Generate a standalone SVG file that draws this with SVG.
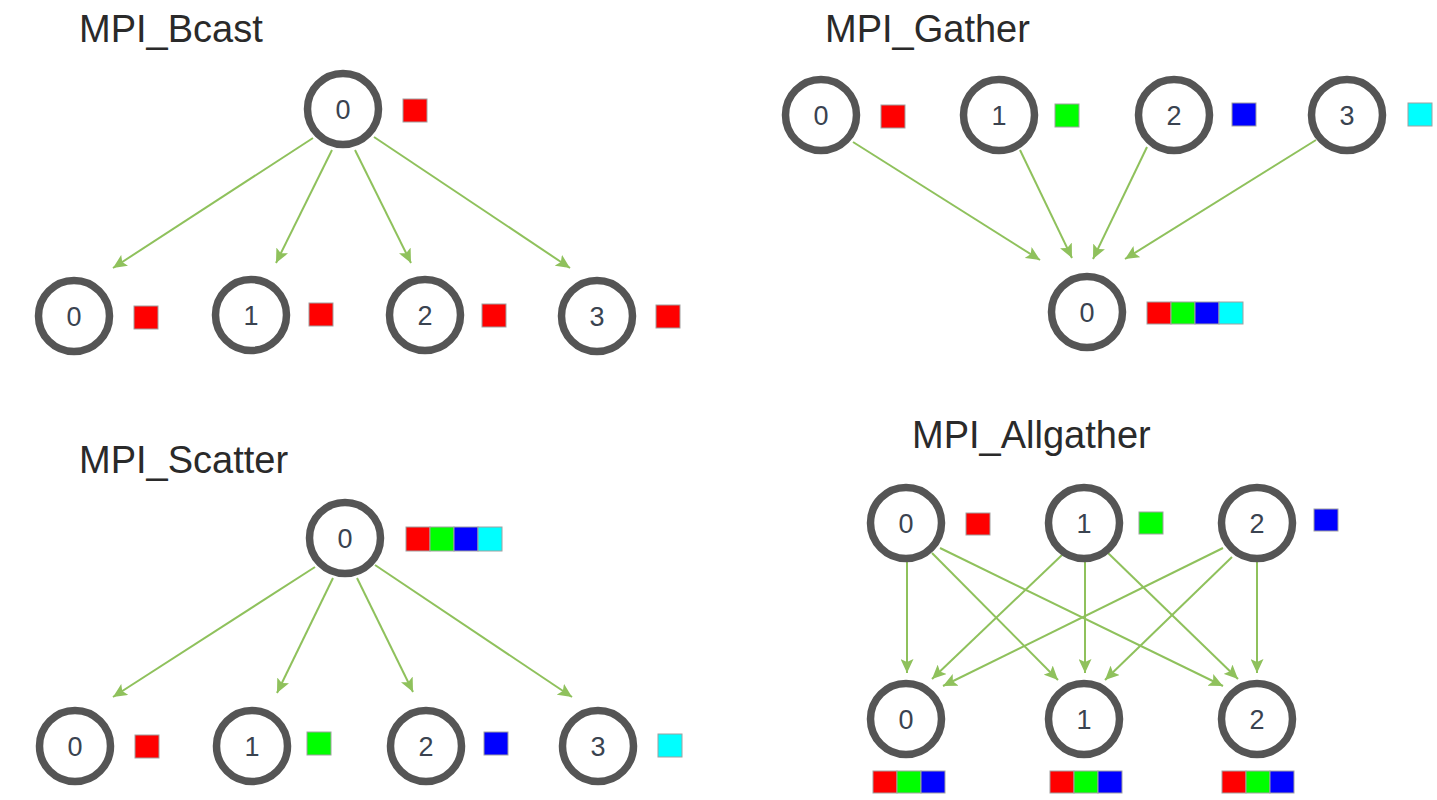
<svg xmlns="http://www.w3.org/2000/svg" width="1437" height="800" viewBox="0 0 1437 800">
<style>
.title{font-family:"Liberation Sans",Arial,sans-serif;font-size:38px;fill:#2a2a2a;}
.node circle{fill:#fff;stroke:#555;stroke-width:7.5;}
.node text{font-family:"Liberation Sans Narrow","Liberation Sans",Arial,sans-serif;font-size:27px;fill:#3a4350;text-anchor:middle;}
.r{fill:#ff0000;stroke:#a0a0a0;stroke-width:1;}
.g{fill:#00ff00;stroke:#a0a0a0;stroke-width:1;}
.b{fill:#0000ff;stroke:#a0a0a0;stroke-width:1;}
.c{fill:#00ffff;stroke:#a0a0a0;stroke-width:1;}
#edges line{stroke:#8fc15c;stroke-width:2;marker-end:url(#ah);}
</style>
<defs>
<marker id="ah" markerUnits="userSpaceOnUse" markerWidth="15" markerHeight="13" refX="14" refY="6.5" orient="auto">
<path d="M0,0 L14,6.5 L0,13 L3,6.5 z" fill="#8fc15c"/>
</marker>
</defs>
<rect width="1437" height="800" fill="#fff"/>

<!-- Titles -->
<text class="title" x="79" y="42">MPI_Bcast</text>
<text class="title" x="825" y="42">MPI_Gather</text>
<text class="title" x="79" y="473">MPI_Scatter</text>
<text class="title" x="912" y="448">MPI_Allgather</text>

<!-- Connectors -->
<g id="edges">
<line x1="313" y1="138" x2="113" y2="268"/>
<line x1="332" y1="150" x2="276" y2="263"/>
<line x1="355" y1="150" x2="411" y2="263"/>
<line x1="374" y1="137" x2="570" y2="268"/>

<line x1="853" y1="142" x2="1040" y2="260"/>
<line x1="1020" y1="150" x2="1072" y2="258"/>
<line x1="1147" y1="147" x2="1093" y2="259"/>
<line x1="1316" y1="140" x2="1125" y2="259"/>

<line x1="315" y1="567" x2="113" y2="697"/>
<line x1="333" y1="578" x2="277" y2="693"/>
<line x1="357" y1="578" x2="413" y2="692"/>
<line x1="375" y1="565" x2="572" y2="697"/>

<line x1="907" y1="562" x2="907" y2="673"/>
<line x1="932" y1="553" x2="1058" y2="680"/>
<line x1="940" y1="548" x2="1223" y2="686"/>
<line x1="1062" y1="555" x2="932" y2="679"/>
<line x1="1085" y1="562" x2="1085" y2="673"/>
<line x1="1108" y1="553" x2="1238" y2="679"/>
<line x1="1223" y1="548" x2="943" y2="686"/>
<line x1="1232" y1="557" x2="1105" y2="680"/>
<line x1="1257" y1="562" x2="1257" y2="673"/>
</g>

<!-- MPI_Bcast -->
<g id="bcast-root" class="node"><circle cx="343" cy="109" r="35.5"/><text x="343" y="119">0</text><rect class="r" x="403" y="99" width="24" height="23"/></g>
<g id="bcast-0" class="node"><circle cx="74" cy="316" r="35.5"/><text x="74" y="326">0</text><rect class="r" x="134" y="306" width="24" height="23"/></g>
<g id="bcast-1" class="node"><circle cx="251" cy="315" r="35.5"/><text x="251" y="325">1</text><rect class="r" x="309" y="303" width="24" height="23"/></g>
<g id="bcast-2" class="node"><circle cx="425" cy="315" r="35.5"/><text x="425" y="325">2</text><rect class="r" x="482" y="304" width="24" height="23"/></g>
<g id="bcast-3" class="node"><circle cx="597" cy="316" r="35.5"/><text x="597" y="326">3</text><rect class="r" x="656" y="305" width="24" height="23"/></g>

<!-- MPI_Gather -->
<g id="gather-0" class="node"><circle cx="821" cy="115" r="35.5"/><text x="821" y="125">0</text><rect class="r" x="881" y="105" width="24" height="23"/></g>
<g id="gather-1" class="node"><circle cx="999" cy="115" r="35.5"/><text x="999" y="125">1</text><rect class="g" x="1055" y="104" width="24" height="23"/></g>
<g id="gather-2" class="node"><circle cx="1174" cy="115" r="35.5"/><text x="1174" y="125">2</text><rect class="b" x="1232" y="103" width="24" height="23"/></g>
<g id="gather-3" class="node"><circle cx="1347" cy="115" r="35.5"/><text x="1347" y="125">3</text><rect class="c" x="1408" y="103" width="24" height="23"/></g>
<g id="gather-root" class="node"><circle cx="1087" cy="312" r="35.5"/><text x="1087" y="322">0</text>
<rect class="r" x="1147" y="302" width="24" height="22"/><rect class="g" x="1171" y="302" width="24" height="22"/><rect class="b" x="1195" y="302" width="24" height="22"/><rect class="c" x="1219" y="302" width="24" height="22"/></g>

<!-- MPI_Scatter -->
<g id="scatter-root" class="node"><circle cx="345" cy="538" r="35.5"/><text x="345" y="548">0</text>
<rect class="r" x="406" y="527" width="24" height="24"/><rect class="g" x="430" y="527" width="24" height="24"/><rect class="b" x="454" y="527" width="24" height="24"/><rect class="c" x="478" y="527" width="24" height="24"/></g>
<g id="scatter-0" class="node"><circle cx="75" cy="746" r="35.5"/><text x="75" y="756">0</text><rect class="r" x="135" y="735" width="24" height="23"/></g>
<g id="scatter-1" class="node"><circle cx="252" cy="746" r="35.5"/><text x="252" y="756">1</text><rect class="g" x="307" y="732" width="24" height="23"/></g>
<g id="scatter-2" class="node"><circle cx="426" cy="746" r="35.5"/><text x="426" y="756">2</text><rect class="b" x="484" y="732" width="24" height="23"/></g>
<g id="scatter-3" class="node"><circle cx="598" cy="746" r="35.5"/><text x="598" y="756">3</text><rect class="c" x="658" y="734" width="24" height="23"/></g>

<!-- MPI_Allgather -->
<g id="allgather-src-0" class="node"><circle cx="906" cy="523" r="35.5"/><text x="906" y="533">0</text><rect class="r" x="966" y="513" width="24" height="22"/></g>
<g id="allgather-src-1" class="node"><circle cx="1084" cy="523" r="35.5"/><text x="1084" y="533">1</text><rect class="g" x="1139" y="512" width="24" height="22"/></g>
<g id="allgather-src-2" class="node"><circle cx="1257" cy="523" r="35.5"/><text x="1257" y="533">2</text><rect class="b" x="1314" y="509" width="24" height="22"/></g>
<g id="allgather-dst-0" class="node"><circle cx="906" cy="719" r="35.5"/><text x="906" y="729">0</text>
<rect class="r" x="873" y="771" width="24" height="22"/><rect class="g" x="897" y="771" width="24" height="22"/><rect class="b" x="921" y="771" width="24" height="22"/></g>
<g id="allgather-dst-1" class="node"><circle cx="1084" cy="719" r="35.5"/><text x="1084" y="729">1</text>
<rect class="r" x="1050" y="771" width="24" height="22"/><rect class="g" x="1074" y="771" width="24" height="22"/><rect class="b" x="1098" y="771" width="24" height="22"/></g>
<g id="allgather-dst-2" class="node"><circle cx="1257" cy="719" r="35.5"/><text x="1257" y="729">2</text>
<rect class="r" x="1222" y="771" width="24" height="22"/><rect class="g" x="1246" y="771" width="24" height="22"/><rect class="b" x="1270" y="771" width="24" height="22"/></g>
</svg>
